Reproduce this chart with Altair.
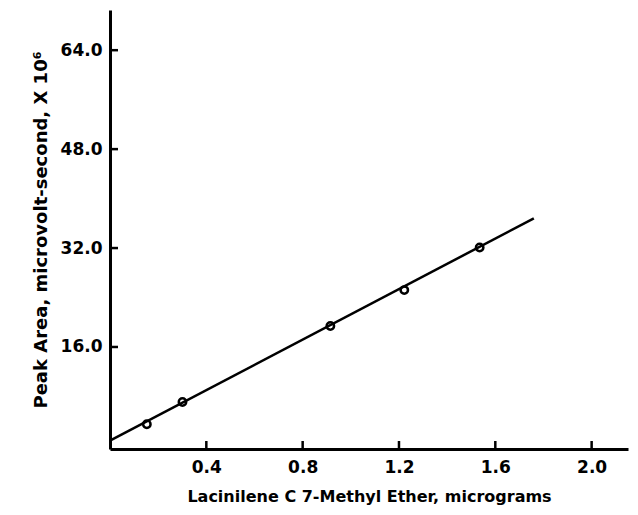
import altair as alt
import pandas as pd

# Data
amount_ug = [0.153, 0.301, 0.915, 1.222, 1.535]
peak_area = [3.5, 7.1, 19.4, 25.2, 32.1]

fit_x = [0.0, 1.76]
fit_y = [0.86, 36.8]

x_ticks = [0.4, 0.8, 1.2, 1.6, 2.0]
y_ticks = [16.0, 32.0, 48.0, 64.0]

W, H = 518, 439
FONT = "DejaVu Sans"

pts = pd.DataFrame({"x": amount_ug, "y": peak_area})
fit = pd.DataFrame({"x": fit_x, "y": fit_y})
xt = pd.DataFrame({"x": x_ticks})
yt = pd.DataFrame({"y": y_ticks})

xscale = alt.Scale(domain=[0, 2.151], nice=False, zero=False)
yscale = alt.Scale(domain=[-0.5, 70.5], nice=False, zero=False)

xaxis = alt.Axis(
    values=x_ticks, format=".1f", ticks=False, grid=False,
    domainColor="black", domainWidth=3,
    labelFont=FONT, labelFontWeight="bold", labelFontSize=17, labelColor="black",
    labelPadding=10, labelFlush=False,
    title="Lacinilene C 7-Methyl Ether, micrograms",
    titleFont=FONT, titleFontWeight="bold", titleFontSize=16, titleColor="black",
    titlePadding=13,
)
yaxis = alt.Axis(
    values=y_ticks, format=".1f", ticks=False, grid=False,
    domainColor="black", domainWidth=3,
    labelFont=FONT, labelFontWeight="bold", labelFontSize=17, labelColor="black",
    labelPadding=8,
    title="Peak Area, microvolt-second, X 10⁶",
    titleFont=FONT, titleFontWeight="bold", titleFontSize=18, titleColor="black",
    titlePadding=10,
)

line = alt.Chart(fit).mark_line(color="black", strokeWidth=2.5).encode(
    x=alt.X("x:Q", scale=xscale, axis=xaxis),
    y=alt.Y("y:Q", scale=yscale, axis=yaxis),
)

points = alt.Chart(pts).mark_point(
    color="black", filled=False, size=55, strokeWidth=2.5, opacity=1
).encode(x=alt.X("x:Q", scale=xscale), y=alt.Y("y:Q", scale=yscale))

xtick_rules = alt.Chart(xt).mark_rule(color="black", strokeWidth=2.5).encode(
    x=alt.X("x:Q", scale=xscale), y=alt.value(H), y2=alt.value(H - 8)
)
ytick_rules = alt.Chart(yt).mark_rule(color="black", strokeWidth=2.5).encode(
    y=alt.Y("y:Q", scale=yscale), x=alt.value(0), x2=alt.value(8)
)

chart = alt.layer(line, points, xtick_rules, ytick_rules).properties(
    width=W, height=H,
    autosize=alt.AutoSizeParams(type="none"),
    padding={"left": 102, "top": 2, "right": 2, "bottom": 57},
    background="white",
).configure_view(stroke=None)

chart.save("out.html", embed_options={"renderer": "svg", "actions": False})
